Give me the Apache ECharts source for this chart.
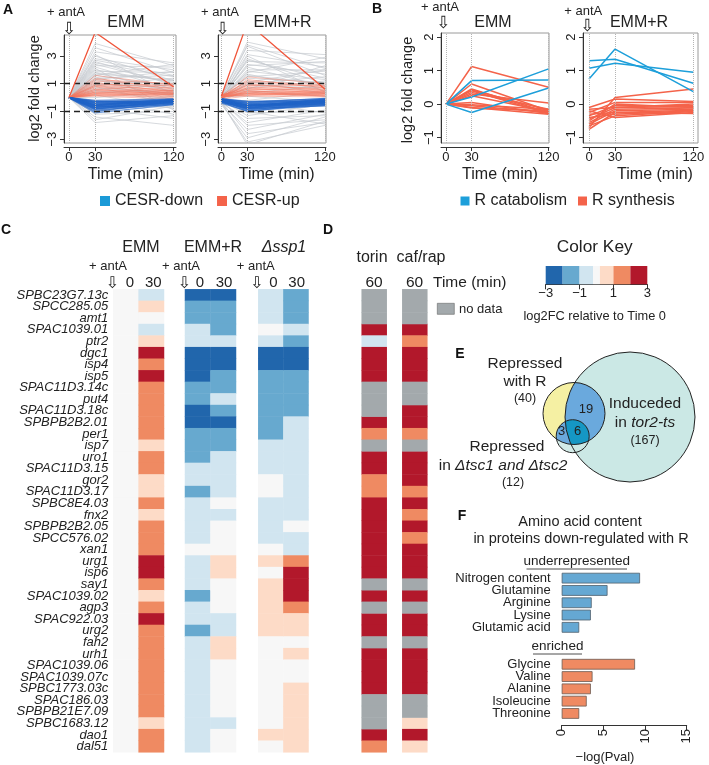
<!DOCTYPE html>
<html><head><meta charset="utf-8">
<script src="https://cdn.jsdelivr.net/npm/echarts@6/dist/echarts.min.js"></script>
<style>html,body{margin:0;padding:0;background:#fff}#c{width:709px;height:765px}</style>
</head><body><div id="c"></div>
<script>
const FONT = "'Liberation Sans', Arial, Helvetica, sans-serif";
// ---------- Panel A : log2 fold change at 0, 30, 120 min ----------
const aTimes = [0, 30, 120];
const aEmmGrey = [[0,3.9,2.3],[0,3.6,1.8],[0,3.3,2.5],[0,3.0,1.2],[0,2.8,2.0],[0,2.6,0.9],[0,2.5,1.5],[0,2.3,2.2],[0,2.2,0.6],[0,2.0,1.1],[0,1.9,1.8],[0,1.8,0.4],[0,1.7,1.3],[0,1.6,0.8],[0,1.5,-0.2],[0,1.4,1.6],[0,1.3,0.5],[0,1.2,1.0],[0,1.1,0.2],[0,1.0,0.7],[0,0.9,1.4],[0,0.8,-0.5],[0,0.7,0.3],[0,0.6,0.9],[0,0.5,-0.1],[0,0.4,0.5],[0,0.2,-0.8],[0,0.0,0.4],[0,-0.2,-1.2],[0,-0.4,0.1],[0,-0.6,-0.7],[0,-0.8,-1.5],[0,-1.0,-0.3],[0,-1.2,-1.0],[0,-1.4,-2.0],[0,-1.6,-0.6],[0,-1.8,-1.3],[0,2.1,-0.9],[0,3.1,0.2],[0,1.6,2.4],[0,2.4,1.0],[0,1.3,1.9],[0,0.9,0.1],[0,1.8,1.2],[0,2.7,1.6]];
const aEmmUp = [[0,1.6,0.9],[0,1.4,0.6],[0,1.2,0.8],[0,1.1,0.4],[0,1.0,0.7],[0,0.9,0.5],[0,0.8,0.3],[0,0.8,0.6],[0,0.7,0.5],[0,0.6,0.2],[0,0.6,0.4],[0,0.5,0.3],[0,0.5,0.5],[0,0.4,0.2],[0,0.4,0.4],[0,0.35,0.3],[0,0.3,0.1],[0,0.3,0.35],[0,0.25,0.2],[0,0.2,0.0],[0,0.2,0.25],[0,0.15,0.1],[0,0.1,-0.1],[0,1.3,1.0],[0,0.9,0.9]];
const aEmmUpOutlier = [0, 4.7, 0.76];
const aEmmDown = [[0,-0.2,-0.1],[0,-0.3,-0.15],[0,-0.35,-0.2],[0,-0.4,-0.25],[0,-0.45,-0.2],[0,-0.5,-0.3],[0,-0.5,-0.15],[0,-0.55,-0.25],[0,-0.6,-0.3],[0,-0.6,-0.2],[0,-0.65,-0.35],[0,-0.7,-0.25],[0,-0.7,-0.4],[0,-0.75,-0.3],[0,-0.8,-0.35],[0,-0.85,-0.2],[0,-0.9,-0.45],[0,-1.0,-0.3],[0,-1.1,-0.5],[0,-0.4,-0.4],[0,-0.3,-0.3],[0,-0.55,-0.1],[0,-0.65,-0.45],[0,-0.25,-0.35],[0,-0.8,-0.5]];
const aRGrey = [[0.1,4.0,2.8],[0.2,3.7,1.6],[0.0,3.4,3.1],[0.1,3.1,2.2],[-0.1,2.8,1.0],[0.2,2.6,2.5],[0.0,2.4,1.7],[0.1,2.2,0.8],[0.0,2.0,2.0],[-0.2,1.9,1.3],[0.1,1.7,0.5],[0.0,1.5,1.9],[0.2,1.4,1.1],[0.0,1.2,0.3],[-0.1,1.0,1.5],[0.1,0.9,0.7],[0.0,0.7,1.2],[-0.2,0.5,0.1],[0.0,0.3,0.9],[0.1,0.1,-0.3],[-0.3,-0.2,0.4],[-0.2,-0.5,-0.6],[-0.1,-0.8,-0.2],[-0.3,-1.1,-1.0],[-0.2,-1.3,-0.5],[-0.4,-1.5,-1.3],[-0.3,-1.8,-0.9],[-0.2,-2.0,-1.6],[-0.4,-2.3,-1.2],[-0.3,-2.6,-1.8],[-0.5,-2.9,-1.4],[-0.4,-3.2,-2.0],[-0.3,-3.4,-1.7],[-0.2,3.0,0.4],[0.1,1.8,2.9],[-0.1,-1.0,-1.9],[0.0,2.7,1.4],[-0.2,-0.3,-1.1],[0.0,0.6,2.3],[0.1,3.8,2.1],[0.0,2.3,2.6],[0.1,1.6,1.0],[-0.1,1.1,2.0]];
const aRUp = [[0.1,1.5,1.0],[0.0,1.3,0.7],[0.2,1.1,0.8],[0.1,1.0,0.5],[0.0,0.9,0.6],[0.1,0.8,0.4],[0.2,0.7,0.7],[0.0,0.7,0.3],[0.1,0.6,0.5],[0.0,0.5,0.2],[0.2,0.5,0.4],[0.1,0.45,0.3],[0.0,0.4,0.45],[0.1,0.35,0.2],[0.0,0.3,0.35],[0.2,0.3,0.1],[0.1,0.25,0.25],[0.0,0.2,0.15],[0.1,0.15,0.3],[-0.1,0.1,0.05],[0.0,1.2,0.9],[0.1,0.9,0.85],[0.2,0.6,0.6],[0.0,0.4,0.1],[0.1,0.2,0.4]];
const aRUpOutlier = [0.1, 5.4, 0.6];
const aRDown = [[-0.1,-0.3,-0.1],[-0.2,-0.4,-0.2],[-0.1,-0.45,-0.15],[-0.3,-0.5,-0.3],[-0.2,-0.55,-0.25],[-0.1,-0.6,-0.2],[-0.2,-0.6,-0.35],[-0.3,-0.65,-0.3],[-0.2,-0.7,-0.4],[-0.1,-0.7,-0.25],[-0.3,-0.75,-0.45],[-0.2,-0.8,-0.3],[-0.3,-0.85,-0.5],[-0.2,-0.9,-0.35],[-0.4,-0.95,-0.55],[-0.1,-0.35,-0.05],[-0.2,-0.5,-0.45],[-0.3,-0.6,-0.15],[-0.2,-0.4,-0.4],[-0.1,-0.25,-0.3],[-0.3,-0.8,-0.6],[-0.2,-0.65,-0.1],[-0.1,-0.55,-0.5],[-0.3,-1.0,-0.4],[-0.2,-0.75,-0.2]];
const aYTicks = [-3, -1, 1, 3];
const aThresholds = [1, -1];
// ---------- Panel B ----------
const bEmmCatab = [[0,0.70,0.72],[0,-0.25,0.48],[0,0.21,1.05]];
const bEmmSynth = [[0,1.12,0.50],[0,0.60,-0.20],[0,0.45,-0.25],[0,0.42,-0.18],[0,0.40,-0.28],[0,0.35,-0.15],[0,0.30,0.03],[0,0.25,-0.22],[0,-0.02,-0.15],[0,-0.05,-0.25],[0,-0.10,-0.30],[0,-0.12,-0.20],[0,0.05,-0.28]];
const bRCatab = [[1.29,1.34,0.62],[1.07,1.22,0.95],[0.75,1.64,0.37]];
const bRSynth = [[-0.70,0.20,0.45],[-0.10,0.15,0.08],[-0.25,0.05,0.05],[-0.35,-0.05,-0.05],[-0.45,-0.10,-0.08],[-0.55,-0.15,-0.12],[-0.60,-0.20,-0.15],[-0.30,-0.25,-0.18],[-0.40,-0.30,-0.20],[-0.65,-0.35,-0.22],[-0.20,-0.40,-0.25],[-0.50,0.00,-0.10],[-0.75,-0.25,-0.28],[-0.15,-0.10,0.00]];
const bYTicks = [-1, 0, 1, 2];
const timeTicks = [0, 30, 120];
// ---------- Panel C / D heatmaps (levels -3..3, null = no data) ----------
const genes = ['SPBC23G7.13c','SPCC285.05','amt1','SPAC1039.01','ptr2','dgc1','isp4','isp5','SPAC11D3.14c','put4','SPAC11D3.18c','SPBPB2B2.01','per1','isp7','uro1','SPAC11D3.15','gor2','SPAC11D3.17','SPBC8E4.03','fnx2','SPBPB2B2.05','SPCC576.02','xan1','urg1','isp6','say1','SPAC1039.02','agp3','SPAC922.03','urg2','fah2','urh1','SPAC1039.06','SPAC1039.07c','SPBC1773.03c','SPAC186.03','SPBPB21E7.09','SPBC1683.12','dao1','dal51'];
const cEmm0  = [0,0,0,0,0,0,0,0,0,0, 0,0,0,0,0,0,0,0,0,0, 0,0,0,0,0,0,0,0,0,0, 0,0,0,0,0,0,0,0,0,0];
const cEmm30 = [-1,1,0,-1,1,3,2,3,2,2, 2,2,2,1,2,2,1,1,2,1, 2,2,2,3,3,2,1,2,3,2, 2,2,2,2,2,2,2,1,2,2];
const cR0    = [-3,-2,-2,-1,-1,-3,-3,-3,-2,-2, -3,-3,-2,-2,-2,-1,-1,-2,-1,-1, -1,-1,0,-1,-1,-1,-2,-1,-1,-2, -1,-1,-1,-1,-1,-1,-1,-1,-1,-1];
const cR30   = [-3,-2,-2,-2,-1,-3,-3,-2,-2,-1, -2,-3,-2,-2,-1,-1,-1,-1,0,-1, 0,0,0,1,1,0,0,0,-1,-1, 1,1,0,0,0,0,0,-1,0,0];
const cSsp0  = [-1,-1,-1,0,-1,-3,-3,-2,-2,-2, -2,-2,-2,-1,-1,-1,0,0,-1,-1, -1,-1,0,1,0,1,1,1,1,1, 0,0,0,0,0,0,0,0,1,0];
const cSsp30 = [-2,-2,-2,-1,-2,-3,-3,-2,-2,-2, -2,-1,-1,-1,-1,-1,-1,-1,-1,-1, 0,-1,-1,2,3,3,3,2,1,1, 0,1,0,0,1,1,1,1,1,1];
const dTorin = [null,null,null,3,-1,3,3,3,null,null, null,3,2,null,3,3,2,2,3,3, 3,3,3,3,3,null,3,null,3,3, null,3,3,3,3,null,null,null,3,2];
const dCafRap= [null,null,null,3,2,3,3,3,null,null, 3,3,2,null,3,3,3,2,3,2, 3,2,3,3,3,null,3,null,3,3, null,3,3,3,3,null,null,1,3,1];
const levels = [-3,-2,-1,0,1,2,3];
const levelColors = ['#2166ac','#67a9cf','#d1e5f0','#f7f7f7','#fddbc7','#ef8a62','#b2182b'];
const keyBreaks = [-3,-2,-1,-0.2,0.2,1,2,3];
const keyTicks = [-3,-1,1,3];
// ---------- Panel F ----------
const fUnderNames = ['Nitrogen content','Glutamine','Arginine','Lysine','Glutamic acid'];
const fUnderVals  = [9.4, 5.5, 3.6, 3.5, 2.1];
const fEnrNames   = ['Glycine','Valine','Alanine','Isoleucine','Threonine'];
const fEnrVals    = [8.8, 3.7, 3.5, 3.0, 2.1];
const fTicks = [0,5,10,15];

// ================= build =================
const grids=[], xAxes=[], yAxes=[], series=[];
function addGrid(g, xa, ya){ grids.push(Object.assign({containLabel:false}, g)); const i=grids.length-1; xa.gridIndex=i; ya.gridIndex=i; xAxes.push(xa); yAxes.push(ya); return i; }
const minus = v => (v<0 ? '\u2212'+(-v) : String(v));
function lineX(min,max){ return {type:'value',min,max,offset:4,
  axisLine:{show:true,onZero:false,lineStyle:{color:'#333',width:1}},
  axisTick:{show:true,customValues:timeTicks,length:4,lineStyle:{color:'#333'}},
  axisLabel:{customValues:timeTicks,fontSize:13,color:'#222',margin:4,fontFamily:FONT},
  splitLine:{show:false}}; }
function lineY(min,max,ticks){ return {type:'value',min,max,
  axisLine:{show:true,onZero:false,lineStyle:{color:'#333',width:1}},
  axisTick:{show:true,customValues:ticks,length:4,lineStyle:{color:'#333'}},
  axisLabel:{customValues:ticks,rotate:90,fontSize:13,color:'#222',margin:5,fontFamily:FONT,formatter:minus},
  splitLine:{show:false}}; }
const boxStyle = {show:true,borderColor:'#9a9a9a',borderWidth:1,backgroundColor:'transparent'};
function addLines(gi, arr, name, color, width, opacity, z){
  arr.forEach(v => series.push({type:'line',name,xAxisIndex:gi,yAxisIndex:gi,silent:true,animation:false,
    symbol:'none',clip:true,z,data:timeTicks.map((t,i)=>[t,v[i]]),
    itemStyle:{color},lineStyle:{color,width,opacity}}));
}
function addRefLines(gi, withDash){
  series.push({type:'line',xAxisIndex:gi,yAxisIndex:gi,data:[],silent:true,animation:false,z:1,
    markLine:{silent:true,symbol:'none',label:{show:false},animation:false,
      lineStyle:{type:'dotted',color:'#b5b5b5',width:1},
      data:timeTicks.map(t=>({xAxis:t}))}});
  if(withDash) series.push({type:'line',xAxisIndex:gi,yAxisIndex:gi,data:[],silent:true,animation:false,z:20,
    markLine:{silent:true,symbol:'none',label:{show:false},animation:false,
      lineStyle:{type:[6,4],color:'#222',width:1.3},
      data:aThresholds.map(v=>({yAxis:v}))}});
}
// Panel A
const gA1 = addGrid(Object.assign({left:64,top:35,width:112,height:108},boxStyle), lineX(-5.7,122.6), lineY(-3.27,4.51,aYTicks));
const gA2 = addGrid(Object.assign({left:218,top:35,width:108,height:108},boxStyle), lineX(-3.9,121.2), lineY(-3.27,4.51,aYTicks));
[[gA1,aEmmGrey,aEmmUp,aEmmDown,aEmmUpOutlier],[gA2,aRGrey,aRUp,aRDown,aRUpOutlier]].forEach(([g,gr,up,dn,out])=>{
  addRefLines(g,true);
  addLines(g,gr,'other','#c6cacf',0.8,0.9,2);
  addLines(g,up,'CESR-up','#f4735a',1,0.45,3);
  addLines(g,dn,'CESR-down','#1e63c6',1.3,0.65,4);
  addLines(g,[out],'CESR-up','#f0553a',1.3,1,5);
});
// Panel B
const gB1 = addGrid(Object.assign({left:441,top:33,width:108,height:110},boxStyle), lineX(-5.8,120.5), lineY(-1.16,2.12,bYTicks));
const gB2 = addGrid(Object.assign({left:583,top:33,width:115,height:110},boxStyle), lineX(-6.9,125.4), lineY(-1.16,2.12,bYTicks));
[[gB1,bEmmCatab,bEmmSynth],[gB2,bRCatab,bRSynth]].forEach(([g,cat,syn])=>{
  addRefLines(g,false);
  addLines(g,syn,'R synthesis','#f4634a',1.5,1,3);
  addLines(g,cat,'R catabolism','#1d9fda',1.5,1,4);
});
// Heatmaps
const hmTop = 289.3, hmH = 463;
const valueHeatmaps = [];
function heatGrid(left,width,cols,showLabels){
  const gi = addGrid({left,top:hmTop,width,height:hmH},
    {type:'category',data:cols.map((c,i)=>String(i)),show:false},
    {type:'category',data:genes,inverse:true,show:showLabels,
     axisLine:{show:false},axisTick:{show:false},splitLine:{show:false},
     axisLabel:{show:showLabels,interval:0,fontSize:13,fontStyle:'italic',color:'#222',margin:5,fontFamily:FONT}});
  const vals=[], na=[];
  cols.forEach((col,ci)=>col.forEach((v,ri)=>{ if(v===null) na.push([ci,ri,0]); else vals.push([ci,ri,v]); }));
  valueHeatmaps.push(series.length);
  series.push({type:'heatmap',xAxisIndex:gi,yAxisIndex:gi,data:vals,silent:true,animation:false,emphasis:{disabled:true}});
  if(na.length) series.push({type:'heatmap',xAxisIndex:gi,yAxisIndex:gi,data:na,silent:true,animation:false,
    emphasis:{disabled:true},itemStyle:{color:'#a3a9ac'}});
}
heatGrid(113.3,50.7,[cEmm0,cEmm30],true);
heatGrid(185,51,[cR0,cR30],false);
heatGrid(258.3,50.2,[cSsp0,cSsp30],false);
heatGrid(361.7,25,[dTorin],false);
heatGrid(402.3,25,[dCafRap],false);
// Color key
const gK = addGrid({left:545.7,top:266,width:101.6,height:18.3},
  {type:'value',min:-3,max:3,axisLine:{show:true,onZero:false,lineStyle:{color:'#333'}},
   axisTick:{show:true,customValues:keyTicks,length:5,lineStyle:{color:'#333'}},
   axisLabel:{customValues:keyTicks,fontSize:13,color:'#222',margin:3,fontFamily:FONT,formatter:minus},splitLine:{show:false}},
  {type:'value',min:0,max:1,show:false});
series.push({type:'custom',xAxisIndex:gK,yAxisIndex:gK,silent:true,animation:false,
  data:keyBreaks.slice(0,-1).map((b,i)=>[b,keyBreaks[i+1],i]),
  renderItem:(p,api)=>{const a=api.coord([api.value(0),0]), b=api.coord([api.value(1),1]);
    return {type:'rect',shape:{x:a[0],y:b[1],width:b[0]-a[0],height:a[1]-b[1]},style:{fill:levelColors[api.value(2)]}};}});
// Panel F
const fCats = fUnderNames.concat([' ','  '], fEnrNames);
const gF = addGrid({left:561.7,top:572,width:125,height:147.6},
  {type:'value',min:0,max:15,offset:5.5,axisLine:{show:true,onZero:false,lineStyle:{color:'#333'}},
   axisTick:{show:true,customValues:fTicks,length:5,lineStyle:{color:'#333'}},
   axisLabel:{customValues:fTicks,rotate:90,fontSize:13,color:'#222',margin:4,fontFamily:FONT},splitLine:{show:false}},
  {type:'category',data:fCats,inverse:true,axisLine:{show:false},axisTick:{show:false},
   axisLabel:{interval:0,fontSize:13,color:'#222',margin:11,fontFamily:FONT}});
series.push({type:'bar',xAxisIndex:gF,yAxisIndex:gF,barWidth:10.7,barGap:'-100%',silent:true,animation:false,
  data:fUnderVals.concat(['-','-','-','-','-','-','-']),itemStyle:{color:'#65a8d3',borderColor:'#4f5f6c',borderWidth:0.8}});
series.push({type:'bar',xAxisIndex:gF,yAxisIndex:gF,barWidth:10.7,barGap:'-100%',silent:true,animation:false,
  data:['-','-','-','-','-','-','-'].concat(fEnrVals),itemStyle:{color:'#ef8a62',borderColor:'#6c5a52',borderWidth:0.8}});

// ---------- text / graphic ----------
const G=[];
function T(x,y,text,o){ G.push({type:'text',x,y,z:50,silent:true,rotation:(o&&o.rot)||0,
  style:Object.assign({text,fontFamily:FONT,fontSize:13,fill:'#222',align:'center',verticalAlign:'middle'},o||{})}); }
const ARROW='\u21E9';
function arrow(x,y,s){ T(x,y,ARROW,{fontFamily:"'DejaVu Sans'",fontSize:s||17}); }
// panel letters
[['A',8,10],['B',377,9],['C',6,230],['D',328,230],['E',460,354],['F',462,516]].forEach(([t,x,y])=>T(x,y,t,{fontSize:14,fontWeight:'bold',fill:'#111'}));
// A
T(66,12.7,'+ antA'); arrow(69,29.5); T(126,22.7,'EMM',{fontSize:16});
T(220,12.7,'+ antA'); arrow(222.7,29.5); T(282.5,22.7,'EMM+R',{fontSize:16});
T(35,88.5,'log2 fold change',{fontSize:14.5,rot:Math.PI/2});
T(125.7,175,'Time (min)',{fontSize:16}); T(276.7,175,'Time (min)',{fontSize:16});
// B
T(440,7.5,'+ antA'); arrow(443.3,24); T(493,22.7,'EMM',{fontSize:16});
T(583.3,11.7,'+ antA'); arrow(587.3,27); T(639,22.7,'EMM+R',{fontSize:16});
T(408.3,90,'log2 fold change',{fontSize:14.5,rot:Math.PI/2});
T(500,175,'Time (min)',{fontSize:16}); T(655,175,'Time (min)',{fontSize:16});
// C
T(141,248,'EMM',{fontSize:16}); T(213,248,'EMM+R',{fontSize:16}); T(284,248,'\u0394ssp1',{fontSize:16,fontStyle:'italic'});
[[108,112.3,130,153.3],[181,184.3,200,224],[255.7,256.7,273.3,296.7]].forEach(([a,ar,z,t])=>{
  T(a,266.7,'+ antA'); arrow(ar,283.5,16); T(z,283.3,'0',{fontSize:15}); T(t,283.3,'30',{fontSize:15});
});
// D
T(372,257.7,'torin',{fontSize:16}); T(421,257.7,'caf/rap',{fontSize:16});
T(374,282.5,'60',{fontSize:15.5}); T(414.5,282.5,'60',{fontSize:15.5});
T(433,282.5,'Time (min)',{fontSize:15.5,align:'left'});
G.push({type:'rect',z:50,silent:true,shape:{x:437.3,y:303.3,width:17,height:11},style:{fill:'#a3a9ac',stroke:'#666',lineWidth:0.6}});
T(459,309,'no data',{fontSize:13,align:'left'});
// Color key
T(594.7,247.3,'Color Key',{fontSize:17.3});
T(594.7,316.7,'log2FC relative to Time 0',{fontSize:12.8});
// Venn (E)
const vc = {Y:{x:574,y:413.5,r:31}, T:{x:630,y:417,r:65}, S:{x:572.7,y:436.2,r:16.5}};
function interPoly(cs){
  const c0=cs[0]; let bp=[c0.x,c0.y], bs=-Infinity;
  for(let x=c0.x-c0.r;x<=c0.x+c0.r;x+=0.5) for(let y=c0.y-c0.r;y<=c0.y+c0.r;y+=0.5){
    let s=Infinity; for(const c of cs) s=Math.min(s,c.r-Math.hypot(x-c.x,y-c.y)); if(s>bs){bs=s;bp=[x,y];} }
  const pts=[]; for(let k=0;k<360;k++){ const a=k*Math.PI/180, dx=Math.cos(a), dy=Math.sin(a); let t=Infinity;
    for(const c of cs){ const px=bp[0]-c.x, py=bp[1]-c.y, b=dx*px+dy*py, cc=px*px+py*py-c.r*c.r; t=Math.min(t,-b+Math.sqrt(b*b-cc)); }
    pts.push([bp[0]+t*dx,bp[1]+t*dy]); }
  return pts;
}
const circ=(c,fill,z)=>G.push({type:'circle',z,silent:true,shape:{cx:c.x,cy:c.y,r:c.r},style:{fill,stroke:null}});
const poly=(cs,fill,z)=>G.push({type:'polygon',z,silent:true,shape:{points:interPoly(cs)},style:{fill,stroke:null}});
circ(vc.T,'#cbe8e5',40); circ(vc.Y,'#f5f0a3',41); poly([vc.Y,vc.T],'#6aa9dd',42);
circ(vc.S,'#d3ebe8',43); poly([vc.S,vc.T],'#cbe8e5',44); poly([vc.S,vc.Y],'#6aa9dd',45); poly([vc.S,vc.Y,vc.T],'#1597c4',46);
[vc.T,vc.Y,vc.S].forEach(c=>G.push({type:'circle',z:47,silent:true,shape:{cx:c.x,cy:c.y,r:c.r},style:{fill:null,stroke:'#222',lineWidth:1}}));
T(525,363.3,'Repressed',{fontSize:15.5}); T(525,381.5,'with R',{fontSize:15.5}); T(525,398.3,'(40)',{fontSize:12.5});
T(586,409.5,'19',{fontSize:13}); T(561.5,431.7,'3',{fontSize:13}); T(577.5,431.7,'6',{fontSize:13});
T(645,403.3,'Induceded',{fontSize:15.5});
G.push({type:'text',x:645,y:422.3,z:50,silent:true,style:{text:'{n|in }{i|tor2-ts}',align:'center',verticalAlign:'middle',
  rich:{n:{fontFamily:FONT,fontSize:15.5,fill:'#222'},i:{fontFamily:FONT,fontSize:15.5,fontStyle:'italic',fill:'#222'}}}});
T(645,440.7,'(167)',{fontSize:12.5});
T(507,446.7,'Repressed',{fontSize:15.5});
G.push({type:'text',x:503,y:466,z:50,silent:true,style:{text:'{n|in }{i|\u0394tsc1 and \u0394tsc2}',align:'center',verticalAlign:'middle',
  rich:{n:{fontFamily:FONT,fontSize:15.5,fill:'#222'},i:{fontFamily:FONT,fontSize:15.5,fontStyle:'italic',fill:'#222'}}}});
T(513,483,'(12)',{fontSize:12.5});
// F
T(580,521.7,'Amino acid content',{fontSize:14.5});
T(581,539.3,'in proteins down-regulated with R',{fontSize:14.5});
T(576.7,561.5,'underrepresented',{fontSize:13.5});
G.push({type:'line',z:50,silent:true,shape:{x1:526.5,y1:569,x2:627,y2:569},style:{stroke:'#222',lineWidth:0.8}});
T(557.5,646.5,'enriched',{fontSize:13.5});
G.push({type:'line',z:50,silent:true,shape:{x1:533,y1:654,x2:582,y2:654},style:{stroke:'#222',lineWidth:0.8}});
T(605,757,'\u2212log(Pval)',{fontSize:13});

const chart = echarts.init(document.getElementById('c'),null,{renderer:'canvas'});
chart.setOption({
  animation:false,
  textStyle:{fontFamily:FONT},
  grid:grids, xAxis:xAxes, yAxis:yAxes, series,
  visualMap:[{type:'piecewise',show:false,seriesIndex:valueHeatmaps,dimension:2,
    pieces:levels.map((v,i)=>({value:v,color:levelColors[i]}))}],
  legend:[
    {left:100,top:193,padding:0,icon:'rect',itemWidth:10,itemHeight:10,itemGap:14,selectedMode:false,
     textStyle:{fontSize:16,color:'#222',fontFamily:FONT},
     data:[{name:'CESR-down',itemStyle:{color:'#1b9ad7'}},{name:'CESR-up',itemStyle:{color:'#f4634a'}}]},
    {left:460.5,top:193,padding:0,icon:'rect',itemWidth:9,itemHeight:9,itemGap:11,selectedMode:false,
     textStyle:{fontSize:16,color:'#222',fontFamily:FONT},
     data:[{name:'R catabolism',itemStyle:{color:'#1d9fda'}},{name:'R synthesis',itemStyle:{color:'#f4634a'}}]}
  ],
  graphic:G
});
</script></body></html>
